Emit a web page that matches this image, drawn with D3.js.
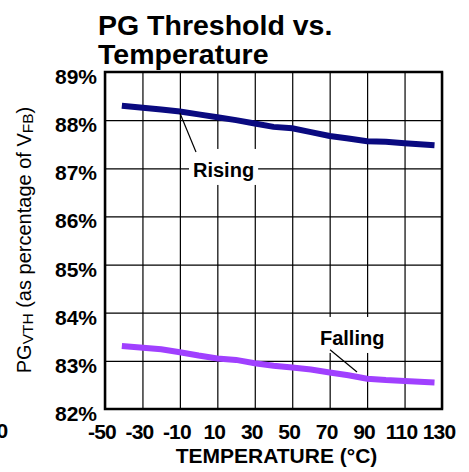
<!DOCTYPE html>
<html>
<head>
<meta charset="utf-8">
<script src="https://cdn.jsdelivr.net/npm/d3@7"></script>
<style>
    body { margin: 0; background: #ffffff; }
    #chart { width: 469px; height: 472px; }
    text { font-family: "Liberation Sans", Arial, sans-serif; fill: #000000; }
</style>
</head>
<body>
<div id="chart"></div>
<script>
/* DATA */
const temperature = [-41, -20, -10, 0, 10, 20, 30, 40, 50, 60, 70, 80, 90, 100, 110, 126];
const rising  = [88.30, 88.22, 88.18, 88.12, 88.06, 88.00, 87.93, 87.86, 87.83, 87.75, 87.67, 87.62, 87.56, 87.55, 87.52, 87.48];
const falling = [83.31, 83.24, 83.18, 83.11, 83.05, 83.02, 82.95, 82.90, 82.86, 82.82, 82.76, 82.70, 82.63, 82.60, 82.58, 82.55];

const xTicks = [-50, -30, -10, 10, 30, 50, 70, 90, 110, 130];
const yTicks = [82, 83, 84, 85, 86, 87, 88, 89];

// annotation label, text anchor and leader line, in data units
const labels = [
    {name: "Rising",  tx: -3,   ty: 86.82, from: [-10, 88.15], to: [-1.4, 87.34]},
    {name: "Falling", tx: 64.8, ty: 83.33, from: [70.2, 83.23], to: [84.6, 82.77]}
];

const width = 469;
const height = 472;
const margin = {top: 72, left: 105, right: 27, bottom: 63};

const svg = d3.select("#chart")
    .append("svg")
    .attr("width", width)
    .attr("height", height);

/* SCALES */
const xScale = d3.scaleLinear()
    .domain([-50, 130])
    .range([margin.left, width - margin.right]);

const yScale = d3.scaleLinear()
    .domain([82, 89])
    .range([height - margin.bottom, margin.top]);

/* GRID */
const xGrid = svg.append("g")
    .attr("transform", `translate(0,${margin.top})`)
    .call(d3.axisBottom(xScale).tickValues(xTicks).tickSize(height - margin.top - margin.bottom).tickFormat(""));
xGrid.select(".domain").remove();
xGrid.selectAll("line").attr("stroke", "#000").attr("stroke-width", 1.2);

const yGrid = svg.append("g")
    .attr("transform", `translate(${margin.left},0)`)
    .call(d3.axisRight(yScale).tickValues(yTicks).tickSize(width - margin.left - margin.right).tickFormat(""));
yGrid.select(".domain").remove();
yGrid.selectAll("line").attr("stroke", "#000").attr("stroke-width", 1.2);

/* LINES */
const line = d3.line()
    .x(function(d, i) { return xScale(temperature[i]); })
    .y(function(d) { return yScale(d); });

svg.append("path")
    .datum(rising)
    .attr("d", line)
    .attr("fill", "none")
    .attr("stroke", "#0a0a80")
    .attr("stroke-width", 6);

svg.append("path")
    .datum(falling)
    .attr("d", line)
    .attr("fill", "none")
    .attr("stroke", "#a040ff")
    .attr("stroke-width", 6);

/* ANNOTATIONS */
labels.forEach(function(l) {
    const g = svg.append("g");
    const box = g.append("rect").attr("fill", "#fff");
    const t = g.append("text")
        .attr("x", xScale(l.tx))
        .attr("y", yScale(l.ty))
        .attr("font-size", 20)
        .attr("font-weight", "bold")
        .text(l.name);
    const bb = t.node().getBBox();
    box.attr("x", bb.x - 4).attr("y", bb.y - 10)
        .attr("width", bb.width + 8).attr("height", bb.height + 14);
    g.append("line")
        .attr("x1", xScale(l.from[0])).attr("y1", yScale(l.from[1]))
        .attr("x2", xScale(l.to[0])).attr("y2", yScale(l.to[1]))
        .attr("stroke", "#000").attr("stroke-width", 1.2);
});

/* FRAME */
svg.append("rect")
    .attr("x", margin.left)
    .attr("y", margin.top)
    .attr("width", width - margin.left - margin.right)
    .attr("height", height - margin.top - margin.bottom)
    .attr("fill", "none")
    .attr("stroke", "#000")
    .attr("stroke-width", 2.5);

/* TICK LABELS */
svg.append("g").selectAll("text")
    .data(yTicks)
    .enter()
    .append("text")
        .attr("x", margin.left - 8)
        .attr("y", function(d) { return yScale(d) + 12; })
        .attr("text-anchor", "end")
        .attr("font-size", 21)
        .attr("font-weight", "bold")
        .text(function(d) { return d + "%"; });

svg.append("g").selectAll("text")
    .data(xTicks)
    .enter()
    .append("text")
        .attr("x", function(d) { return xScale(d) - 3; })
        .attr("y", height - margin.bottom + 30)
        .attr("text-anchor", "middle")
        .attr("font-size", 21)
        .attr("font-weight", "bold")
        .attr("letter-spacing", -0.8)
        .text(function(d) { return d; });

// label of the neighbouring chart, cut by the left edge as in the source
svg.append("text")
    .attr("x", -3.5)
    .attr("y", 438)
    .attr("font-size", 21)
    .attr("font-weight", "bold")
    .text("0");

/* AXIS TITLES */
svg.append("text")
    .attr("x", (margin.left + width - margin.right) / 2 + 3)
    .attr("y", 463)
    .attr("text-anchor", "middle")
    .attr("font-size", 21)
    .attr("font-weight", "bold")
    .text("TEMPERATURE (°C)");

const yTitle = svg.append("text")
    .attr("transform", "rotate(-90)")
    .attr("x", -240)
    .attr("y", 31)
    .attr("text-anchor", "middle")
    .attr("font-size", 20);
yTitle.append("tspan").text("PG");
yTitle.append("tspan").attr("font-size", 15.5).attr("dy", 2).text("VTH");
yTitle.append("tspan").attr("dy", -2).text(" (as percentage of V");
yTitle.append("tspan").attr("font-size", 15.5).attr("dy", 2).text("FB");
yTitle.append("tspan").attr("dy", -2).text(")");

/* TITLE */
svg.append("text")
    .attr("x", 98)
    .attr("y", 35)
    .attr("font-size", 28.5)
    .attr("font-weight", "bold")
    .text("PG Threshold vs.");

svg.append("text")
    .attr("x", 98)
    .attr("y", 64)
    .attr("font-size", 28.5)
    .attr("font-weight", "bold")
    .text("Temperature");
</script>
</body>
</html>
